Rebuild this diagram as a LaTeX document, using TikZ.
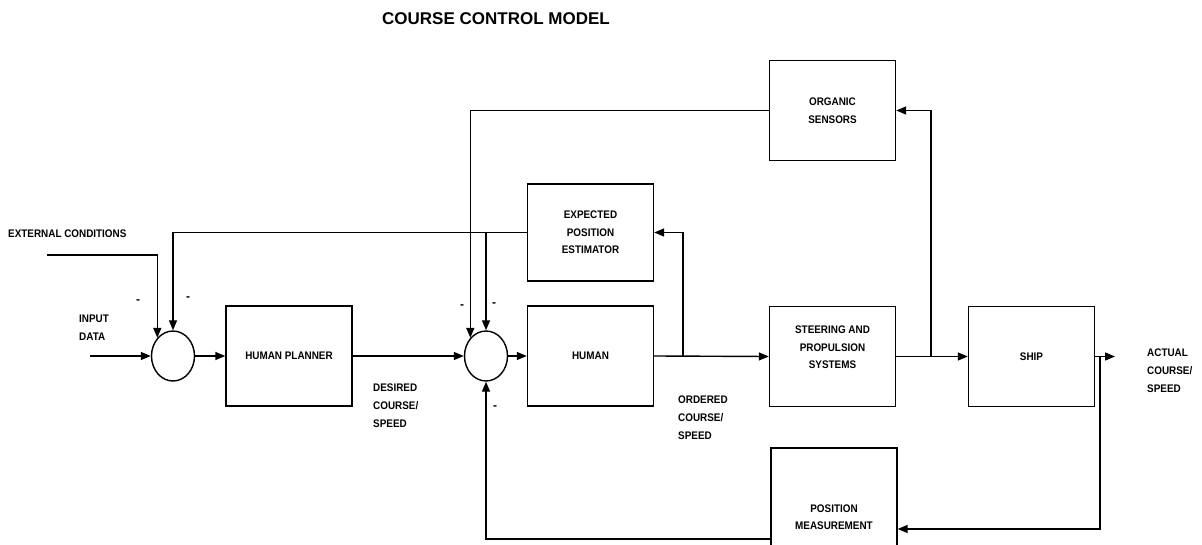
\documentclass[tikz,border=0pt]{standalone}
\usepackage{fontspec}
\setmainfont{Liberation Sans}
\newfontfamily\schmal[FakeStretch=0.9]{Liberation Sans}
\usetikzlibrary{arrows.meta,shapes.geometric}

\begin{document}
\begin{tikzpicture}[x=1pt,y=-1pt,
	block/.style={draw,line width=1.4pt,minimum width=126pt,minimum height=100pt,inner sep=0pt,align=center,font=\schmal\bfseries\fontsize{11}{17.5}\selectfont},
	summe/.style={draw,ellipse,line width=1.4pt,minimum width=43pt,minimum height=50pt,inner sep=0pt},
	txt/.style={inner sep=0pt,align=left,anchor=west,font=\schmal\bfseries\fontsize{11}{18}\selectfont},
	minus/.style={inner sep=0pt,font=\bfseries\fontsize{12}{12}\selectfont},
	pfeil/.style={line width=1.4pt,-{Triangle[length=10pt,width=8pt]}}]
	% Rahmen: 1202 x 545
	\useasboundingbox (0,0) rectangle (1202,545);
	\node[font=\bfseries\fontsize{17}{17}\selectfont,inner sep=0pt] (titel) at (496,19) {COURSE CONTROL MODEL};
	% Bloecke
	\node[summe] (sum1) at (173,356) {};
	\node[block] (planer) at (289,356) {HUMAN PLANNER};
	\node[summe] (sum2) at (486,356) {};
	\node[block] (human) at (590.5,356) {HUMAN};
	\node[block,minimum height=97pt] (epe) at (590.5,232.5) {EXPECTED\\POSITION\\ESTIMATOR};
	\node[block] (organ) at (832.5,110.5) {ORGANIC\\SENSORS};
	\node[block] (steuer) at (832.5,356.5) {};
	\node[inner sep=0pt,align=center,font=\schmal\bfseries\fontsize{11}{17.5}\selectfont] (steuertxt) at ([yshift=9pt]steuer.center) {STEERING AND\\PROPULSION\\SYSTEMS};
	\node[block] (schiff) at (1031.5,356.5) {SHIP};
	\node[block,minimum height=138pt] (messung) at (834,517) {POSITION\\MEASUREMENT};
	% Beschriftungen
	\node[txt] (extlbl) at (8,234) {EXTERNAL CONDITIONS};
	\node[txt] (eingabe) at (79,328) {INPUT\\DATA};
	\node[txt] (soll) at (373,406) {DESIRED\\COURSE/\\SPEED};
	\node[txt] (befohlen) at (678,418) {ORDERED\\COURSE/\\SPEED};
	\node[txt] (ist) at (1147,371) {ACTUAL\\COURSE/\\SPEED};
	\foreach \x/\y [count=\i] in {138/302,188/299,462/307,494/305,495/408}
	\node[minus] (minus\i) at (\x,\y) {-};
	% Hauptzweig
	\coordinate (ein) at (90,356);
	\coordinate (aus) at (1115,356.5);
	\draw[pfeil] (ein) -- (sum1.west);
	\draw[pfeil] (sum1.east) -- (planer.west);
	\draw[pfeil] (planer.east) -- (sum2.west);
	\draw[pfeil] (sum2.east) -- (human.west);
	\draw[pfeil] (human.east) -- (steuer.west);
	\draw[pfeil] (steuer.east) -- (schiff.west);
	\draw[pfeil] (schiff.east) -- (aus);
	% Rueckfuehrungen
	\coordinate (abzw1) at (683,356);
	\coordinate (abzw2) at (931,356.5);
	\coordinate (abzw3) at (1100,356.5);
	\coordinate (ext) at (47,255);
	\draw[pfeil] (abzw1) |- (epe.east);
	\draw[pfeil] (abzw2) |- (organ.east);
	\draw[pfeil] (abzw3) |- ([yshift=-12pt]messung.east);
	\draw[pfeil] ([yshift=-22pt]messung.west) -| (sum2.south);
	\draw[pfeil] (organ.west) -| (sum2.north west);
	\draw[pfeil] (epe.west) -| (sum1.north);
	\draw[pfeil] (epe.west -| sum2.north) -- (sum2.north);
	\draw[pfeil] (ext) -| (sum1.north west);
\end{tikzpicture}
\end{document}
